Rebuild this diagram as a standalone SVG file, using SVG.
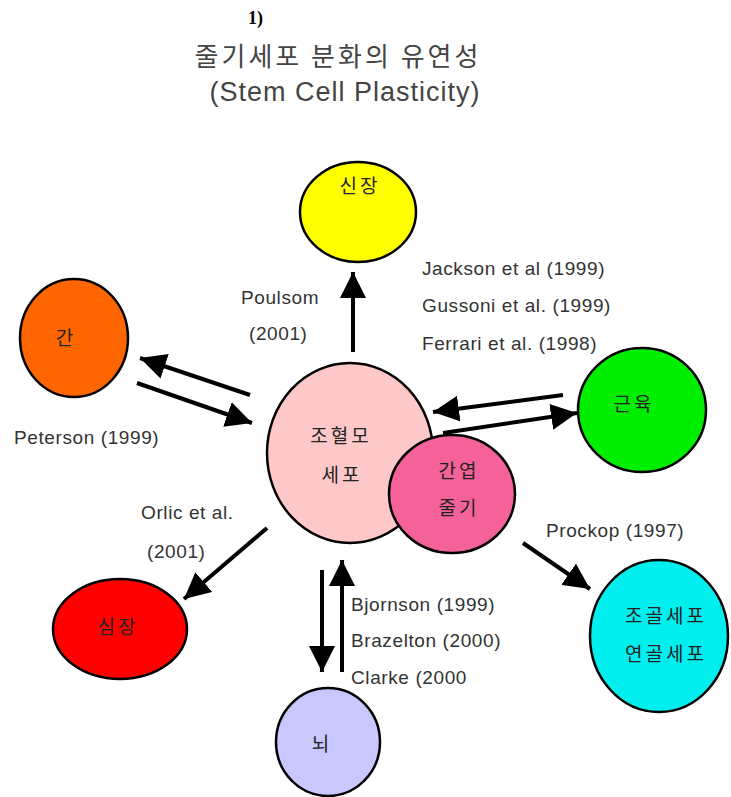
<svg xmlns="http://www.w3.org/2000/svg" width="731" height="797" viewBox="0 0 731 797">
<defs>
<marker id="ah" markerUnits="userSpaceOnUse" markerWidth="28" markerHeight="26" refX="26" refY="13" orient="auto">
<path d="M0,0 L26,13 L0,26 Z" fill="#000"/>
</marker>
<style>
.n{stroke:#000;stroke-width:2.5}
.k{font-family:"Noto Sans CJK KR","Noto Sans",sans-serif;font-size:19px;fill:#222;text-anchor:middle;letter-spacing:3px}
.t{font-family:"Liberation Sans",Arial,sans-serif;font-size:19px;fill:#333;letter-spacing:0.6px}
.c line{stroke:#000;stroke-width:4;marker-end:url(#ah)}
</style>
</defs>
<rect width="731" height="797" fill="#fff"/>
<g id="title">
<text x="248" y="24" font-family="Liberation Serif,serif" font-weight="bold" font-size="18">1)</text>
<text x="338" y="66" font-family="'Noto Sans CJK KR',sans-serif" font-size="26" fill="#444" text-anchor="middle" letter-spacing="3">줄기세포 분화의 유연성</text>
<text x="345" y="101" font-family="'Liberation Sans',Arial,sans-serif" font-size="27" fill="#444" text-anchor="middle" letter-spacing="1">(Stem Cell Plasticity)</text>
</g>
<g id="connectors" class="c">
<line x1="353" y1="352" x2="353" y2="272"/>
<line x1="250" y1="395" x2="140" y2="358"/>
<line x1="137" y1="383" x2="252" y2="423"/>
<line x1="563" y1="395" x2="433" y2="412"/>
<line x1="443" y1="433" x2="577" y2="413"/>
<line x1="267" y1="528" x2="184" y2="599"/>
<line x1="322" y1="570" x2="322" y2="672"/>
<line x1="342" y1="672" x2="342" y2="560"/>
<line x1="523" y1="543" x2="590" y2="589"/>
</g>
<g id="kidney"><ellipse class="n" cx="358" cy="212" rx="58" ry="50" fill="#ffff00" stroke-width="1.5"/><text class="k" x="360" y="193">신장</text></g>
<g id="liver"><ellipse class="n" cx="74" cy="338" rx="54" ry="59" fill="#ff6600"/><text class="k" x="66" y="345">간</text></g>
<g id="hsc"><ellipse class="n" cx="350" cy="453" rx="83" ry="90" fill="#ffc8c8" stroke-width="1.5" stroke="#555"/><text class="k" x="341" y="443">조혈모</text><text class="k" x="342" y="482">세포</text></g>
<g id="msc"><ellipse class="n" cx="452" cy="494" rx="63" ry="59" fill="#f5629a" stroke-width="1.5" stroke="#444"/><text class="k" x="459" y="478">간엽</text><text class="k" x="459" y="515">줄기</text></g>
<g id="muscle"><ellipse class="n" cx="642" cy="410" rx="64" ry="62" fill="#00ee00" stroke-width="1.5"/><text class="k" x="634" y="411">근육</text></g>
<g id="heart"><ellipse class="n" cx="120" cy="629" rx="67" ry="50" fill="#ff0000"/><text class="k" x="118" y="634">심장</text></g>
<g id="brain"><ellipse class="n" cx="328" cy="742" rx="52" ry="54" fill="#c8c8ff"/><text class="k" x="322" y="751">뇌</text></g>
<g id="bone"><ellipse class="n" cx="659" cy="636" rx="69" ry="76" fill="#00eeee"/><text class="k" x="666" y="623">조골세포</text><text class="k" x="666" y="661">연골세포</text></g>
<g id="labels">
<text class="t" x="241" y="304">Poulsom</text>
<text class="t" x="249" y="340">(2001)</text>
<text class="t" x="422" y="275">Jackson et al (1999)</text>
<text class="t" x="422" y="312">Gussoni et al. (1999)</text>
<text class="t" x="422" y="350">Ferrari et al. (1998)</text>
<text class="t" x="14" y="444">Peterson (1999)</text>
<text class="t" x="141" y="519">Orlic et al.</text>
<text class="t" x="147" y="558">(2001)</text>
<text class="t" x="351" y="611">Bjornson (1999)</text>
<text class="t" x="351" y="647">Brazelton (2000)</text>
<text class="t" x="351" y="684" fill="#888">Clarke (2000</text>
<text class="t" x="546" y="537">Prockop (1997)</text>
</g>
</svg>
